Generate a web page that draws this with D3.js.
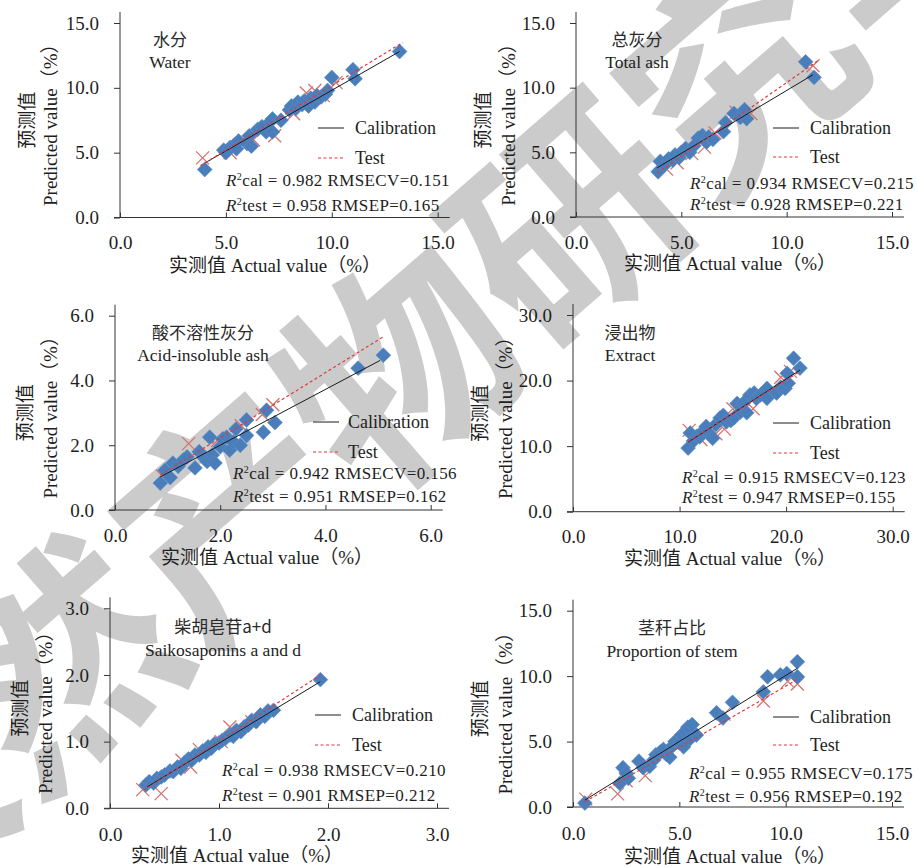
<!DOCTYPE html>
<html><head><meta charset="utf-8">
<script src="https://cdn.jsdelivr.net/npm/d3@7"></script>
<style>body{margin:0;background:#fff}svg{display:block}</style>
</head><body><svg id="c" width="918" height="867"></svg>
<script>
// ---------------- DATA ----------------
const titlesCN = ["水分","总灰分","酸不溶性灰分","浸出物","柴胡皂苷a+d","茎秆占比"];
const titlesEN = ["Water","Total ash","Acid-insoluble ash","Extract","Saikosaponins a and d","Proportion of stem"];
const axisMax = [15,15,6,30,3,15];
const tickValues = [[0,5,10,15],[0,5,10,15],[0,2,4,6],[0,10,20,30],[0,1,2,3],[0,5,10,15]];
const r2cal  = ["0.982","0.934","0.942","0.915","0.938","0.955"];
const rmsecv = ["0.151","0.215","0.156","0.123","0.210","0.175"];
const r2test = ["0.958","0.928","0.951","0.947","0.901","0.956"];
const rmsep  = ["0.165","0.221","0.162","0.155","0.212","0.192"];
const legendLabels = ["Calibration","Test"];
const xTitle = "实测值 Actual value（%）";
const yTitleCN = "预测值";
const yTitleEN = "Predicted value（%）";
const watermarkText = "天然产物研究与开发";

// Water
const waterCal = [[4.0,3.7],[4.9,5.2],[5.0,5.0],[5.2,5.4],[5.4,5.6],[5.6,5.9],[5.5,5.3],[6.0,5.7],[6.1,6.3],[6.2,5.5],[6.5,6.8],[6.7,7.0],[6.9,6.6],[7.1,7.4],[7.2,7.6],[7.2,6.6],[7.6,7.5],[8.0,8.3],[8.1,8.6],[8.3,8.4],[8.4,8.9],[8.6,8.7],[8.7,9.0],[8.9,8.6],[9.0,9.2],[9.2,8.9],[9.3,9.4],[9.5,9.3],[9.7,9.5],[9.8,9.8],[10.0,10.8],[11.0,11.4],[11.1,10.7],[13.2,12.8]];
const waterTest = [[3.9,4.6],[5.2,5.0],[6.3,6.0],[7.3,6.3],[8.2,8.0],[8.8,9.6],[9.2,9.8],[9.6,9.4],[10.2,10.4]];
const waterLines = [[[4.0,4.2],[13.2,12.8]],[[3.8,4.0],[13.35,13.5]]];
// Total ash
const ashCal = [[3.9,3.5],[4.0,4.3],[4.2,4.0],[4.4,4.5],[4.6,4.4],[4.7,4.8],[4.9,4.6],[5.0,5.0],[5.2,5.3],[5.4,5.0],[5.6,5.5],[5.8,6.1],[6.0,6.3],[6.2,5.8],[6.3,6.2],[6.5,6.0],[7.0,6.6],[7.1,7.3],[7.5,8.0],[7.8,7.7],[8.0,8.3],[8.1,7.6],[10.9,12.0],[11.3,10.8]];
const ashTest = [[4.3,3.7],[4.8,4.2],[5.5,4.9],[6.1,5.4],[6.6,6.5],[7.6,8.1],[8.3,8.0],[11.25,11.7]];
const ashLines = [[[3.85,3.8],[11.25,11.0]],[[3.85,3.4],[11.5,12.1]]];
// Acid-insoluble ash
const acidCal = [[0.86,0.83],[0.95,1.23],[1.05,1.0],[1.1,1.45],[1.2,1.35],[1.3,1.55],[1.37,1.64],[1.52,1.3],[1.6,1.8],[1.7,1.6],[1.75,1.5],[1.8,2.25],[1.85,1.7],[1.9,1.45],[2.0,1.95],[2.05,2.2],[2.12,2.25],[2.18,1.85],[2.25,2.1],[2.3,2.5],[2.38,2.0],[2.5,2.3],[2.5,2.78],[2.82,2.4],[2.88,3.08],[3.04,2.7],[4.62,4.38],[5.1,4.78]];
const acidTest = [[0.9,1.05],[1.4,2.05],[1.95,2.15],[2.4,2.6],[2.8,2.95],[3.0,3.25]];
const acidLines = [[[0.86,1.02],[5.04,4.62]],[[0.86,1.08],[5.1,5.35]]];
// Extract
const extCal = [[10.8,9.7],[11.0,12.0],[11.3,10.8],[11.6,11.5],[11.9,11.4],[12.2,12.3],[12.5,13.0],[12.8,11.9],[13.1,11.2],[13.4,13.3],[13.8,14.3],[14.1,14.7],[14.4,13.7],[14.8,13.9],[15.1,14.3],[15.4,16.5],[15.7,15.2],[16.0,16.6],[16.3,15.1],[16.6,17.8],[17.0,18.1],[17.2,17.3],[17.6,17.8],[18.2,18.8],[18.2,17.3],[19.1,18.1],[19.5,19.0],[19.9,18.8],[20.2,19.6],[20.1,21.1],[20.7,23.4],[21.3,21.9]];
const extTest = [[10.9,12.4],[12.0,11.0],[13.4,11.9],[14.2,12.6],[15.0,15.7],[16.9,15.7],[19.5,20.5],[20.4,21.4]];
const extLines = [[[10.8,10.6],[21.3,21.6]],[[10.8,10.7],[21.3,21.4]]];
// Saikosaponins
const saiCal = [[0.33,0.35],[0.36,0.40],[0.40,0.38],[0.43,0.45],[0.47,0.47],[0.50,0.50],[0.55,0.56],[0.58,0.55],[0.62,0.62],[0.65,0.60],[0.68,0.68],[0.72,0.74],[0.75,0.72],[0.78,0.80],[0.82,0.80],[0.85,0.86],[0.88,0.84],[0.90,0.92],[0.93,0.90],[0.96,0.97],[1.00,0.98],[1.03,1.02],[1.06,1.05],[1.10,1.10],[1.13,1.08],[1.16,1.17],[1.20,1.15],[1.23,1.22],[1.27,1.25],[1.30,1.32],[1.34,1.30],[1.38,1.40],[1.42,1.38],[1.45,1.46],[1.50,1.47],[1.93,1.93]];
const saiTest = [[0.30,0.28],[0.47,0.22],[0.66,0.72],[0.74,0.62],[0.82,0.88],[1.02,1.0],[1.1,1.22],[1.3,1.3]];
const saiLines = [[[0.34,0.32],[1.93,1.9]],[[0.31,0.27],[1.93,2.0]]];
// Proportion of stem
const stemCal = [[0.56,0.3],[2.2,1.8],[2.35,3.0],[2.5,2.6],[2.6,2.2],[3.1,3.5],[3.3,3.0],[3.6,3.1],[3.8,3.6],[3.9,4.0],[4.1,4.2],[4.25,4.4],[4.4,4.0],[4.55,3.8],[4.7,4.7],[4.8,5.0],[5.0,4.9],[5.1,5.5],[5.2,4.6],[5.3,5.8],[5.4,6.1],[5.5,5.2],[5.6,6.3],[5.8,5.5],[6.75,7.2],[7.05,6.8],[7.5,8.0],[8.95,8.8],[9.15,9.95],[9.75,10.1],[10.05,10.2],[10.55,11.1],[10.55,9.95]];
const stemTest = [[0.6,0.6],[2.1,1.0],[2.5,2.0],[3.4,2.4],[5.0,4.8],[7.1,7.1],[8.95,8.1],[10.1,9.6],[10.55,9.4]];
const stemLines = [[[0.56,0.53],[10.55,10.6]],[[0.56,0.4],[10.5,9.7]]];

const calSets = [waterCal, ashCal, acidCal, extCal, saiCal, stemCal];
const testSets = [waterTest, ashTest, acidTest, extTest, saiTest, stemTest];
const lineSets = [waterLines, ashLines, acidLines, extLines, saiLines, stemLines];

// ---------------- LAYOUT ----------------
const layout = [
 {ox:120,oy:217.5,x1:437.7,y1:23, tx:170,tc:40,te:62, lx:318,lt:355,l1:128,l2:158, sx:226,s1:180,s2:205, xc:275,xy:265, tly:243, yx1:27,yx2:50},
 {ox:576,oy:217,x1:892,y1:23, tx:637,tc:40,te:62, lx:773,lt:810,l1:128,l2:157, sx:690,s1:183,s2:204, xc:730,xy:263, tly:243, yx1:483,yx2:508},
 {ox:115,oy:510,x1:430.7,y1:315.7, tx:203,tc:333,te:355, lx:313,lt:348,l1:422,l2:452, sx:233,s1:473,s2:496, xc:267,xy:557, tly:536, yx1:25,yx2:50},
 {ox:573,oy:511.7,x1:892.7,y1:315, tx:630,tc:333,te:355, lx:773,lt:810,l1:423,l2:453, sx:682,s1:477,s2:497, xc:730,xy:558, tly:537, yx1:480,yx2:505},
 {ox:110,oy:808.3,x1:437,y1:608.3, tx:223,tc:627,te:650, lx:315,lt:352,l1:715,l2:745, sx:222,s1:770,s2:795, xc:237,xy:855, tly:834.5, yx1:20,yx2:45},
 {ox:573,oy:807,x1:892,y1:610.7, tx:672,tc:628,te:651, lx:773,lt:810,l1:717,l2:745, sx:689,s1:773,s2:796, xc:730,xy:856, tly:833.5, yx1:480,yx2:505}
];

const SERIF = "'Liberation Serif','Times New Roman','Noto Sans CJK SC',serif";
const CJK = "'Noto Sans CJK SC',sans-serif";
const TXT = "#1e1e1e";
const BLUE = "#4a7ebb";
const XCOL = "#d7726e";

const svg = d3.select("#c");
svg.append("rect").attr("width",918).attr("height",867).attr("fill","#fff");

// watermark (beneath chart)
svg.append("text")
  .attr("transform","translate(560,210) rotate(-41)")
  .attr("text-anchor","middle").attr("dominant-baseline","central")
  .attr("font-family",CJK).attr("font-weight",700).attr("font-size",225)
  .attr("fill","#cbcbcb").text(watermarkText);

const fmt = d3.format(".1f");

layout.forEach((L,i) => {
  const g = svg.append("g");
  const x = d3.scaleLinear().domain([0,axisMax[i]]).range([L.ox, L.x1]);
  const y = d3.scaleLinear().domain([0,axisMax[i]]).range([L.oy, L.y1]);

  // Y axis
  const ya = g.append("g").attr("transform",`translate(${L.ox},0)`)
    .call(d3.axisLeft(y).tickValues(tickValues[i]).tickSize(6).tickPadding(15).tickFormat(fmt));
  ya.select(".domain").remove();
  ya.selectAll("line").attr("stroke","#333");
  ya.selectAll("text").attr("font-family",SERIF).attr("font-size",19).attr("fill",TXT);
  g.append("line").attr("x1",L.ox).attr("x2",L.ox).attr("y1",y(0)).attr("y2",y(axisMax[i])-11)
    .attr("stroke","#333");

  // X axis
  const xa = g.append("g").attr("transform",`translate(0,${L.oy})`)
    .call(d3.axisBottom(x).tickValues(tickValues[i]).tickSize(-5).tickFormat(fmt));
  xa.select(".domain").remove();
  xa.selectAll("line").attr("stroke","#333");
  xa.selectAll("text").attr("font-family",SERIF).attr("font-size",19).attr("fill",TXT)
    .attr("y", L.tly - L.oy).attr("dy","0.33em");
  g.append("line").attr("x1",L.ox-6).attr("x2",L.x1+12).attr("y1",L.oy).attr("y2",L.oy)
    .attr("stroke","#333");

  // axis titles
  g.append("text").attr("x",L.xc).attr("y",L.xy).attr("dy","0.35em").attr("text-anchor","middle")
    .attr("font-family",SERIF).attr("font-size",19).attr("fill",TXT).text(xTitle);
  const ym = (L.oy + L.y1)/2;
  g.append("text").attr("transform",`translate(${L.yx1},${ym}) rotate(-90)`).attr("dy","0.35em")
    .attr("text-anchor","middle").attr("font-family",CJK).attr("font-size",19).attr("fill",TXT).text(yTitleCN);
  g.append("text").attr("transform",`translate(${L.yx2},${ym}) rotate(-90)`).attr("dy","0.35em")
    .attr("text-anchor","middle").attr("font-family",SERIF).attr("font-size",19).attr("fill",TXT).text(yTitleEN);

  // panel title
  g.append("text").attr("x",L.tx).attr("y",L.tc).attr("dy","0.35em").attr("text-anchor","middle")
    .attr("font-family",CJK).attr("font-size",17).attr("fill","#2a2a2a").text(titlesCN[i]);
  g.append("text").attr("x",L.tx).attr("y",L.te).attr("dy","0.35em").attr("text-anchor","middle")
    .attr("font-family",SERIF).attr("font-size",17.5).attr("fill",TXT).text(titlesEN[i]);

  // test markers (x)
  const hs = 6.5;
  g.append("g").selectAll("path").data(testSets[i]).join("path")
    .attr("d", d => {const cx=x(d[0]), cy=y(d[1]); return `M${cx-hs},${cy-hs}L${cx+hs},${cy+hs}M${cx-hs},${cy+hs}L${cx+hs},${cy-hs}`;})
    .attr("stroke",XCOL).attr("stroke-width",1.3).attr("fill","none");

  // calibration diamonds
  const sym = d3.symbol().type(d3.symbolSquare).size(110);
  g.append("g").selectAll("path").data(calSets[i]).join("path")
    .attr("d", sym)
    .attr("transform", d => `translate(${x(d[0])},${y(d[1])}) rotate(45)`)
    .attr("fill",BLUE).attr("stroke","#5b8cc6").attr("stroke-width",0.6);

  // regression lines
  const lg = d3.line().x(d=>x(d[0])).y(d=>y(d[1]));
  g.append("path").attr("d",lg(lineSets[i][0])).attr("stroke","#1a1a1a").attr("stroke-width",1).attr("fill","none");
  g.append("path").attr("d",lg(lineSets[i][1])).attr("stroke","#e0393b").attr("stroke-width",1.2)
    .attr("stroke-dasharray","3,2.5").attr("fill","none");

  // legend
  g.append("line").attr("x1",L.lx).attr("x2",L.lx+26).attr("y1",L.l1).attr("y2",L.l1)
    .attr("stroke","#1a1a1a").attr("stroke-width",1);
  g.append("line").attr("x1",L.lx).attr("x2",L.lx+26).attr("y1",L.l2).attr("y2",L.l2)
    .attr("stroke","#e0393b").attr("stroke-width",1.2).attr("stroke-dasharray","3,2.5");
  g.append("text").attr("x",L.lt).attr("y",L.l1).attr("dy","0.33em")
    .attr("font-family",SERIF).attr("font-size",18).attr("fill",TXT).text(legendLabels[0]);
  g.append("text").attr("x",L.lt).attr("y",L.l2).attr("dy","0.33em")
    .attr("font-family",SERIF).attr("font-size",18).attr("fill",TXT).text(legendLabels[1]);

  // stats
  const rows = [[L.s1, "cal = " + r2cal[i] + " RMSECV=" + rmsecv[i]],
                [L.s2, "test = " + r2test[i] + " RMSEP=" + rmsep[i]]];
  rows.forEach(r => {
    const base = r[0] + 6;
    const t = g.append("text").attr("x",L.sx).attr("y",base)
      .attr("font-family",SERIF).attr("font-size",17).attr("fill",TXT).attr("letter-spacing","0.4px");
    t.append("tspan").attr("font-style","italic").text("R");
    t.append("tspan").attr("font-size",10).attr("y",base-6).text("2");
    t.append("tspan").attr("y",base).text(r[1]);
  });
});
</script></body></html>
